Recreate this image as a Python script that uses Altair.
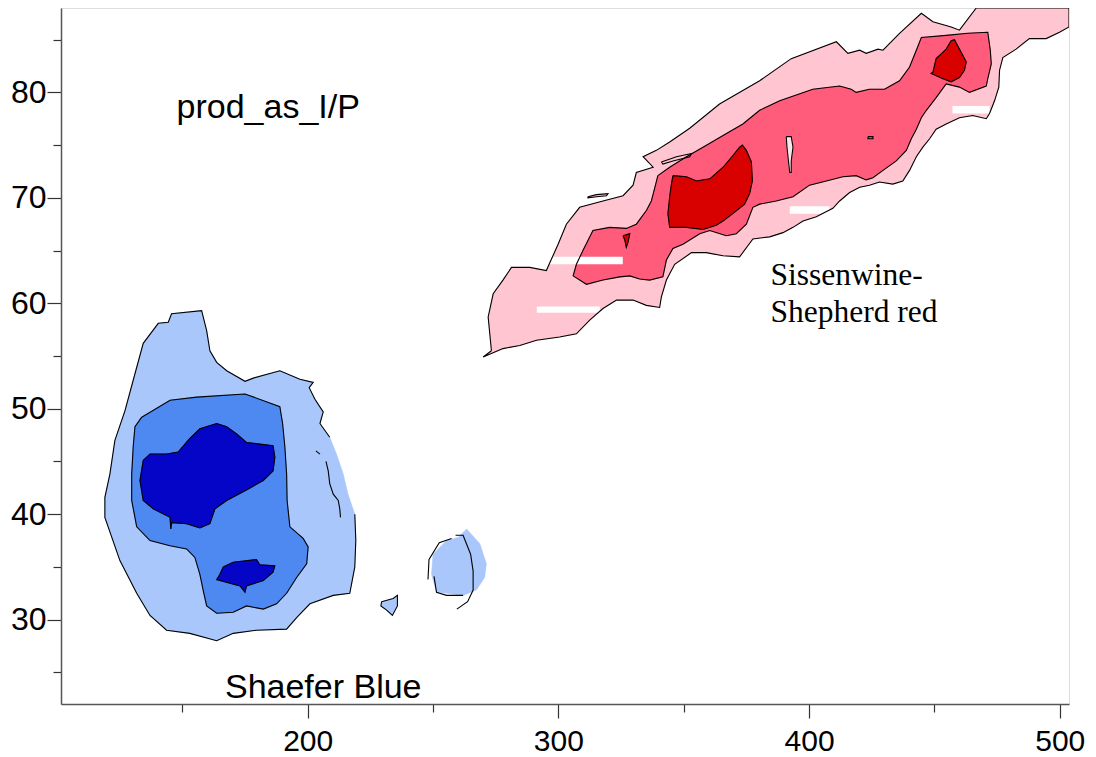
import altair as alt
import pandas as pd

# ---------------- axis setup ----------------
X_DOMAIN = [101.6, 503.7]
Y_DOMAIN = [22.0, 88.0]
x_ticks = [150, 200, 250, 300, 350, 400, 450, 500]
y_ticks = [25, 30, 35, 40, 45, 50, 55, 60, 65, 70, 75, 80, 85]

# ---------------- Shaefer (blue) contours ----------------
blue_outer_x = [145.7, 157.7, 159.7, 161.0, 163.7, 167.7, 175.0, 178.3, 188.9, 196.9, 202.2, 200.6, 202.9, 206.2, 204.9,
                208.8, 211.5, 214.2, 216.1, 218.8, 219.2, 218.8, 216.8, 210.2, 200.9, 195.6, 191.6, 179.6, 170.3, 163.7,
                153.0, 143.7, 137.1, 131.8, 125.1, 119.1, 119.1, 121.1, 123.1, 127.1, 130.4, 134.4, 140.4, 144.4]
blue_outer_y = [59.0, 59.3, 57.4, 55.5, 54.4, 53.6, 52.6, 52.9, 53.6, 52.8, 52.5, 52.0, 50.9, 49.7, 48.6,
                47.3, 45.7, 43.8, 41.9, 40.0, 37.5, 35.0, 32.5, 32.3, 31.5, 30.2, 29.1, 29.0, 28.7, 28.0,
                28.7, 29.0, 30.4, 32.5, 35.6, 39.7, 41.6, 43.8, 47.0, 49.8, 52.7, 56.2, 58.1, 58.2]
blue_small_x = [250.0, 255.4, 260.0, 263.4, 268.7, 271.3, 270.6, 267.3, 262.0, 255.4, 251.4, 249.4]
blue_small_y = [36.2, 37.5, 37.8, 38.6, 37.2, 35.3, 34.0, 32.8, 32.3, 32.5, 32.6, 34.3]
blue_tiny_x = [229.5, 234.1, 235.8, 235.8, 233.8, 231.5, 229.2]
blue_tiny_y = [31.7, 32.0, 32.3, 31.3, 30.4, 30.9, 31.3]
blue_mid_x = [133.8, 145.1, 155.7, 175.0, 188.9, 190.0, 190.9, 191.6, 191.8, 192.9, 198.2, 200.2, 199.6, 195.6, 191.6,
              187.6, 182.3, 175.6, 170.3, 163.7, 159.7, 158.3, 157.0, 155.0, 151.7, 145.1, 137.1, 131.8, 129.8, 129.8,
              130.4, 131.1]
blue_mid_y = [49.2, 50.8, 51.1, 51.4, 50.2, 48.6, 46.4, 43.8, 41.3, 38.8, 37.7, 36.9, 35.3, 34.0, 32.5,
              31.5, 31.0, 31.3, 30.7, 30.6, 31.3, 32.8, 34.3, 35.9, 36.7, 37.0, 37.5, 38.8, 41.3, 43.8,
              46.4, 48.3]
blue_dark1_x = [134.4, 137.1, 143.7, 148.4, 153.0, 157.0, 163.7, 167.7, 171.7, 175.6, 186.2, 186.9, 186.2, 182.3, 175.6,
                167.7, 163.0, 161.0, 157.0, 151.7, 145.7, 145.4, 145.1, 138.4, 134.4, 133.1]
blue_dark1_y = [45.1, 45.7, 45.7, 45.9, 47.2, 48.1, 48.6, 48.3, 47.6, 46.8, 46.5, 45.4, 44.1, 43.2, 42.3,
                41.3, 40.5, 39.1, 38.7, 39.1, 39.2, 38.6, 39.7, 40.5, 41.3, 43.2]
blue_dark2_x = [166.3, 170.3, 179.6, 180.9, 186.9, 186.2, 182.3, 175.6, 175.0, 173.0, 163.7, 165.0]
blue_dark2_y = [35.0, 35.45, 35.7, 35.2, 35.1, 34.5, 33.7, 33.2, 32.6, 33.2, 33.8, 34.3]
# contour line pieces that are drawn without a closed outline
blue_open1_x = [207.3, 208.2, 208.8, 210.2, 212.2, 212.8, 213.1]
blue_open1_y = [45.0, 44.1, 42.9, 41.9, 41.3, 40.5, 39.7]
blue_open2_x = [203.3, 204.9]
blue_open2_y = [46.0, 45.7]
blue_small_line1_x = [248.0, 248.4, 252.5, 257.4]
blue_small_line1_y = [33.8, 35.7, 37.3, 37.7]
blue_small_line2_x = [259.0, 262.0, 265.0, 266.0, 266.0, 263.8, 259.5]
blue_small_line2_y = [38.0, 38.0, 36.2, 34.6, 32.8, 31.7, 31.0]
blue_small_line3_x = [250.4, 251.4, 255.4, 262.0]
blue_small_line3_y = [34.1, 32.6, 32.3, 32.3]

# ---------------- Sissenwine-Shepherd (red) contours ----------------
red_outer_x = [273.3, 272.0, 274.0, 277.9, 281.3, 288.6, 295.2, 299.9, 303.2, 308.5, 317.8, 325.8, 329.8, 331.1, 337.8,
               333.8, 339.1, 344.4, 352.4, 364.3, 380.3, 392.9, 410.9, 415.5, 420.2, 422.8, 427.5, 429.5, 436.1, 444.8,
               449.4, 456.7, 460.0, 466.7, 503.7, 503.7, 499.9, 494.6, 487.9, 482.6, 477.3, 476.0, 475.7, 474.0, 472.0,
               470.7, 465.3, 460.0, 454.7, 450.7, 448.1, 445.4, 442.8, 440.1, 437.4, 433.4, 428.1, 424.1, 420.2, 416.2,
               412.2, 409.5, 402.9, 397.6, 393.6, 389.6, 384.3, 377.6, 372.3, 365.7, 359.0, 353.1, 346.4, 343.1, 341.1,
               340.4, 335.1, 329.8, 323.2, 317.8, 312.5, 307.2, 300.5, 291.3, 284.6, 277.9, 270.0]
red_outer_y = [55.5, 58.7, 60.9, 62.2, 63.4, 63.4, 63.1, 65.6, 67.5, 69.1, 69.7, 70.2, 71.2, 72.4, 72.9,
               73.9, 74.5, 75.3, 76.6, 78.9, 81.1, 83.2, 84.8, 83.7, 84.0, 83.7, 84.1, 84.0, 85.6, 87.5,
               86.7, 86.2, 85.9, 88.0, 88.0, 86.2, 85.7, 85.1, 85.1, 84.1, 83.3, 82.1, 80.5, 79.2, 78.0,
               77.5, 77.8, 77.6, 77.0, 76.5, 75.6, 74.8, 73.9, 72.6, 71.6, 71.3, 71.5, 71.2, 71.0, 70.5,
               69.7, 69.0, 68.2, 67.8, 67.2, 66.7, 66.3, 66.1, 64.4, 64.5, 64.8, 64.8, 63.7, 62.2, 60.6,
               59.6, 59.8, 60.3, 60.3, 59.5, 58.4, 57.1, 56.8, 56.5, 56.0, 55.7, 54.9]
red_sliver1_x = [341.1, 347.1, 353.1, 352.4, 345.7, 341.7]
red_sliver1_y = [73.4, 73.9, 74.2, 73.9, 73.5, 73.2]
red_sliver2_x = [311.8, 315.2, 319.8, 319.2, 315.2, 311.8]
red_sliver2_y = [70.1, 70.3, 70.4, 70.2, 70.1, 70.0]
red_mid_x = [339.7, 344.4, 351.1, 357.7, 365.7, 373.6, 380.3, 388.3, 401.5, 412.2, 416.8, 418.8, 424.1, 430.1, 436.1,
             440.1, 442.8, 444.8, 454.7, 463.3, 471.3, 472.3, 472.7, 471.3, 470.7, 464.0, 460.0, 454.7, 450.7, 446.8,
             444.8, 442.8, 440.8, 438.8, 434.8, 429.5, 425.5, 422.8, 418.8, 413.5, 406.9, 400.2, 393.6, 386.9, 380.3,
             377.6, 375.0, 371.0, 367.0, 360.4, 356.4, 349.7, 345.7, 343.1, 341.7, 336.4, 332.4, 328.5, 324.5, 317.8,
             311.2, 305.9, 307.2, 309.8, 313.8, 320.5, 327.1, 331.1, 335.1, 337.1, 338.4]
red_mid_y = [72.1, 72.9, 73.9, 74.8, 75.9, 77.0, 78.3, 79.2, 80.3, 80.6, 80.3, 80.0, 80.3, 80.3, 81.1,
             82.4, 84.0, 85.2, 85.4, 85.6, 85.7, 84.0, 82.7, 81.3, 80.6, 80.0, 80.5, 80.8, 79.5, 78.3,
             77.6, 76.5, 75.6, 74.5, 73.5, 72.6, 71.9, 71.7, 72.1, 72.0, 71.6, 71.2, 70.1, 69.7, 69.4,
             69.1, 67.5, 66.6, 66.4, 66.9, 66.6, 65.6, 65.2, 64.1, 62.5, 62.2, 62.3, 62.6, 62.5, 62.2,
             61.8, 62.6, 63.7, 65.0, 66.9, 67.2, 67.1, 67.5, 68.8, 69.7, 70.9]
red_hole_x = [390.9, 392.9, 393.6, 392.9, 392.9, 392.3, 391.6, 391.2]
red_hole_y = [75.8, 75.8, 74.8, 73.5, 72.4, 72.4, 73.9, 74.8]
red_speck_x = [423.5, 425.5, 425.5, 423.5]
red_speck_y = [75.8, 75.8, 75.6, 75.6]
red_dark1_x = [345.7, 351.1, 355.1, 360.4, 365.7, 369.6, 372.3, 373.4, 375.0, 377.0, 377.4, 376.3, 374.3, 369.6, 365.7,
               363.0, 357.7, 351.1, 344.4, 343.7, 344.4, 345.1]
red_dark1_y = [72.1, 72.0, 71.6, 71.8, 72.9, 74.0, 74.8, 75.0, 74.5, 73.4, 71.6, 70.4, 69.4, 68.5, 67.8,
               67.4, 67.0, 67.2, 67.2, 68.5, 70.1, 71.3]
red_dark2_x = [325.8, 328.5, 327.8, 327.1, 326.5]
red_dark2_y = [66.4, 66.6, 65.8, 65.3, 66.0]
red_dark3_x = [449.4, 450.7, 454.7, 456.7, 458.0, 460.0, 462.7, 462.0, 460.0, 456.7, 453.4, 448.7]
red_dark3_y = [81.9, 83.2, 84.1, 84.9, 85.0, 84.1, 82.9, 82.1, 81.4, 81.0, 81.3, 81.8]

# white gaps in the gridded fill
gap_x0 = [296.6, 291.4, 457.2, 392.3]
gap_x1 = [325.7, 316.5, 472.0, 408.2]
gap_y0 = [63.7, 59.1, 78.0, 68.5]
gap_y1 = [64.4, 59.7, 78.7, 69.2]

# annotations
note_text = ["prod_as_I/P", "Shaefer Blue"]
note_x = [147.7, 167.0]
note_y = [77.6, 22.6]
red_note_text = ["Sissenwine-", "Shepherd red"]
red_note_x = [384.6, 384.6]
red_note_y = [61.7, 58.2]

# colours
BLUE_LIGHT, BLUE_MID, BLUE_DARK = "#a9c7fa", "#4d89f0", "#0505c8"
RED_LIGHT, RED_MID, RED_DARK = "#ffc5d0", "#ff5b7b", "#d90000"


def frame(groups, close=True):
    rows = []
    for gid, (xs, ys) in enumerate(groups):
        pts = list(zip(xs, ys))
        if close:
            pts = pts + [pts[0]]
        for i, (x, y) in enumerate(pts):
            rows.append({"x": x, "y": y, "g": gid, "i": i})
    return pd.DataFrame(rows)


x_axis = alt.Axis(
    values=x_ticks, title=None, grid=False,
    labelExpr="datum.value % 100 === 0 ? datum.label : ''",
    tickSize={"condition": {"test": "datum.value % 100 === 0", "value": 14}, "value": 8},
    labelFontSize=30, labelFont="Liberation Sans", labelColor="black", labelPadding=8,
    tickColor="#333", tickWidth=1.2, domainColor="#555", domainWidth=1.5,
)
y_axis = alt.Axis(
    values=y_ticks, title=None, grid=False,
    labelExpr="datum.value % 10 === 0 ? datum.label : ''",
    tickSize={"condition": {"test": "datum.value % 10 === 0", "value": 14}, "value": 8},
    labelFontSize=32, labelFont="Liberation Sans", labelColor="black", labelPadding=1,
    tickColor="#333", tickWidth=1.2, domainColor="#555", domainWidth=1.5,
)
X = alt.X("x:Q", scale=alt.Scale(domain=X_DOMAIN, nice=False, zero=False), axis=x_axis)
Y = alt.Y("y:Q", scale=alt.Scale(domain=Y_DOMAIN, nice=False, zero=False), axis=y_axis)


def fill_layer(groups, color):
    return alt.Chart(frame(groups)).mark_line(
        fill=color, stroke=color, strokeWidth=0.5, clip=True, interpolate="linear"
    ).encode(x=X, y=Y, detail="g:N", order="i:Q")


def stroke_layer(groups, close=True, width=1.1):
    return alt.Chart(frame(groups, close)).mark_line(
        stroke="black", strokeWidth=width, clip=True
    ).encode(x=X, y=Y, detail="g:N", order="i:Q")


blue_light = [(blue_outer_x, blue_outer_y), (blue_small_x, blue_small_y), (blue_tiny_x, blue_tiny_y)]
blue_mid = [(blue_mid_x, blue_mid_y)]
blue_dark = [(blue_dark1_x, blue_dark1_y), (blue_dark2_x, blue_dark2_y)]
red_light = [(red_outer_x, red_outer_y), (red_sliver1_x, red_sliver1_y), (red_sliver2_x, red_sliver2_y)]
red_mid = [(red_mid_x, red_mid_y), (red_speck_x, red_speck_y)]
red_hole = [(red_hole_x, red_hole_y)]
red_dark = [(red_dark1_x, red_dark1_y), (red_dark2_x, red_dark2_y), (red_dark3_x, red_dark3_y)]

# the outer blue contour line is open on its right flank, where the shading runs past it
blue_outer_line = (blue_outer_x[19:] + blue_outer_x[:16], blue_outer_y[19:] + blue_outer_y[:16])
open_lines = [
    blue_outer_line,
    (blue_open1_x, blue_open1_y), (blue_open2_x, blue_open2_y),
    (blue_small_line1_x, blue_small_line1_y), (blue_small_line2_x, blue_small_line2_y),
    (blue_small_line3_x, blue_small_line3_y),
]
closed_lines = [(blue_tiny_x, blue_tiny_y)] + blue_mid + blue_dark + red_light + red_mid + red_hole + red_dark

gaps = pd.DataFrame({"x": gap_x0, "x2": gap_x1, "y": gap_y0, "y2": gap_y1})
gap_layer = alt.Chart(gaps).mark_rect(color="white", clip=True).encode(
    x=X, x2="x2:Q", y=Y, y2="y2:Q"
)

notes = alt.Chart(pd.DataFrame({"x": note_x, "y": note_y, "t": note_text})).mark_text(
    align="left", baseline="alphabetic", font="Liberation Sans", fontSize=34, color="black"
).encode(x=X, y=Y, text="t:N")
red_notes = alt.Chart(pd.DataFrame({"x": red_note_x, "y": red_note_y, "t": red_note_text})).mark_text(
    align="left", baseline="alphabetic", font="Liberation Serif", fontSize=31.5, color="black"
).encode(x=X, y=Y, text="t:N")

layers = [
    fill_layer(blue_light, BLUE_LIGHT),
    fill_layer(blue_mid, BLUE_MID),
    fill_layer(blue_dark, BLUE_DARK),
    fill_layer(red_light, RED_LIGHT),
    fill_layer(red_mid, RED_MID),
    fill_layer(red_hole, "#fde3e8"),
    fill_layer(red_dark, RED_DARK),
    gap_layer,
    stroke_layer(closed_lines),
    stroke_layer(open_lines, close=False),
    notes,
    red_notes,
]

chart = alt.layer(*layers).properties(
    width=1008, height=696,
    padding={"left": 61, "top": 8, "right": 27, "bottom": 53},
    autosize=alt.AutoSizeParams(type="none"),
).configure_view(stroke="#555", strokeWidth=1.5).configure(background="white")

chart.save("out.html", embed_options={"renderer": "svg", "actions": False})
